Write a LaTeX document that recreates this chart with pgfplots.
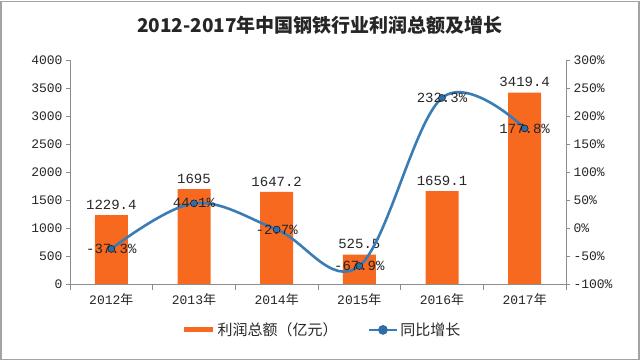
\documentclass[border=0pt]{standalone}
\usepackage{pgfplots}
\pgfplotsset{compat=1.18}
\usepackage{fontspec}
\setmainfont{Liberation Mono}
\newfontfamily\cjk{Noto Sans CJK SC}
\definecolor{barorange}{HTML}{F7691E}
\definecolor{lineblue}{HTML}{3A7DB6}
\definecolor{markblue}{HTML}{2F6DA8}
\definecolor{axgray}{HTML}{8C8C8C}
\definecolor{txt}{HTML}{262626}
\begin{document}
\begin{tikzpicture}[x=1pt,y=1pt]
\path[use as bounding box] (0,0) rectangle (640,361);
\draw[axgray!80, line width=1.5pt] (1,1.5) rectangle (639,359.5);
\node[font=\cjk\fontsize{19}{22}\selectfont\bfseries, text=txt] at (320,336) {2012-2017年中国钢铁行业利润总额及增长};
\begin{axis}[
  at={(70pt,77pt)}, anchor=south west, scale only axis,
  width=496pt, height=224pt,
  xmin=-0.5, xmax=5.5, ymin=0, ymax=4000,
  axis x line*=bottom, axis y line*=left,
  axis line style={axgray, line width=0.8pt},
  xtick={0,1,2,3,4,5},
  xticklabels={2012{\cjk 年},2013{\cjk 年},2014{\cjk 年},2015{\cjk 年},2016{\cjk 年},2017{\cjk 年}},
  major x tick style={draw=none},
  minor xtick={-0.5,0.5,1.5,2.5,3.5,4.5,5.5},
  minor tick length=6pt,
  ytick={0,500,1000,1500,2000,2500,3000,3500,4000},
  yticklabels={0,500,1000,1500,2000,2500,3000,3500,4000},
  tick align=outside, major tick length=4pt,
  tick style={axgray, line width=0.8pt},
  ticklabel style={font=\fontsize{13}{15}\selectfont, text=txt},
  xticklabel style={yshift=-2pt},
  ybar, bar width=33pt,
  nodes near coords, point meta=explicit symbolic,
  nodes near coords style={font=\fontsize{14}{16}\selectfont, text=txt, yshift=2pt},
]
\addplot[fill=barorange, draw=none] coordinates {
  (0,1229.4) [1229.4]
  (1,1695) [1695]
  (2,1647.2) [1647.2]
  (3,525.5) [525.5]
  (4,1659.1) [1659.1]
  (5,3419.4) [3419.4]
};
\end{axis}
\begin{axis}[
  at={(70pt,77pt)}, anchor=south west, scale only axis,
  width=496pt, height=224pt,
  xmin=-0.5, xmax=5.5, ymin=-100, ymax=300,
  axis x line=none, axis y line*=right,
  axis line style={axgray, line width=0.8pt},
  ytick={-100,-50,0,50,100,150,200,250,300},
  yticklabels={-100\%,-50\%,0\%,50\%,100\%,150\%,200\%,250\%,300\%},
  tick align=outside, major tick length=4pt,
  tick style={axgray, line width=0.8pt},
  ticklabel style={font=\fontsize{13}{15}\selectfont, text=txt},
  legend style={at={(0.508,-0.205)}, anchor=center, draw=none, fill=none,
    legend columns=2, font=\cjk\fontsize{15}{17}\selectfont, text=txt,
    /tikz/every even column/.append style={column sep=28pt}},
]
\addlegendimage{legend image code/.code={\draw[barorange, line width=5pt] (0pt,0pt) -- (29pt,0pt);}}
\addlegendentry{利润总额（亿元）}
\addplot[lineblue, line width=2.6pt, smooth, tension=0.6,
  nodes near coords, point meta=explicit symbolic,
  nodes near coords style={anchor=center, font=\fontsize{14}{16}\selectfont, text=txt},
  legend image code/.code={\draw[lineblue, line width=2.6pt] (0pt,0pt) -- (28pt,0pt);
     \fill[markblue] (14pt,0pt) circle (3.5pt);}]
  coordinates {
  (0,-37.3) [-37.3\%]
  (1,44.1) [44.1\%]
  (2,-2.7) [-2.7\%]
  (3,-67.9) [-67.9\%]
  (4,232.3) [232.3\%]
  (5,177.8) [177.8\%]
};
\addlegendentry{同比增长}
\addplot[only marks, mark=*, mark size=3.5pt, mark options={fill=markblue, draw=none}, forget plot]
  coordinates {(0,-37.3) (1,44.1) (2,-2.7) (3,-67.9) (4,232.3) (5,177.8)};
\end{axis}
\end{tikzpicture}
\end{document}
